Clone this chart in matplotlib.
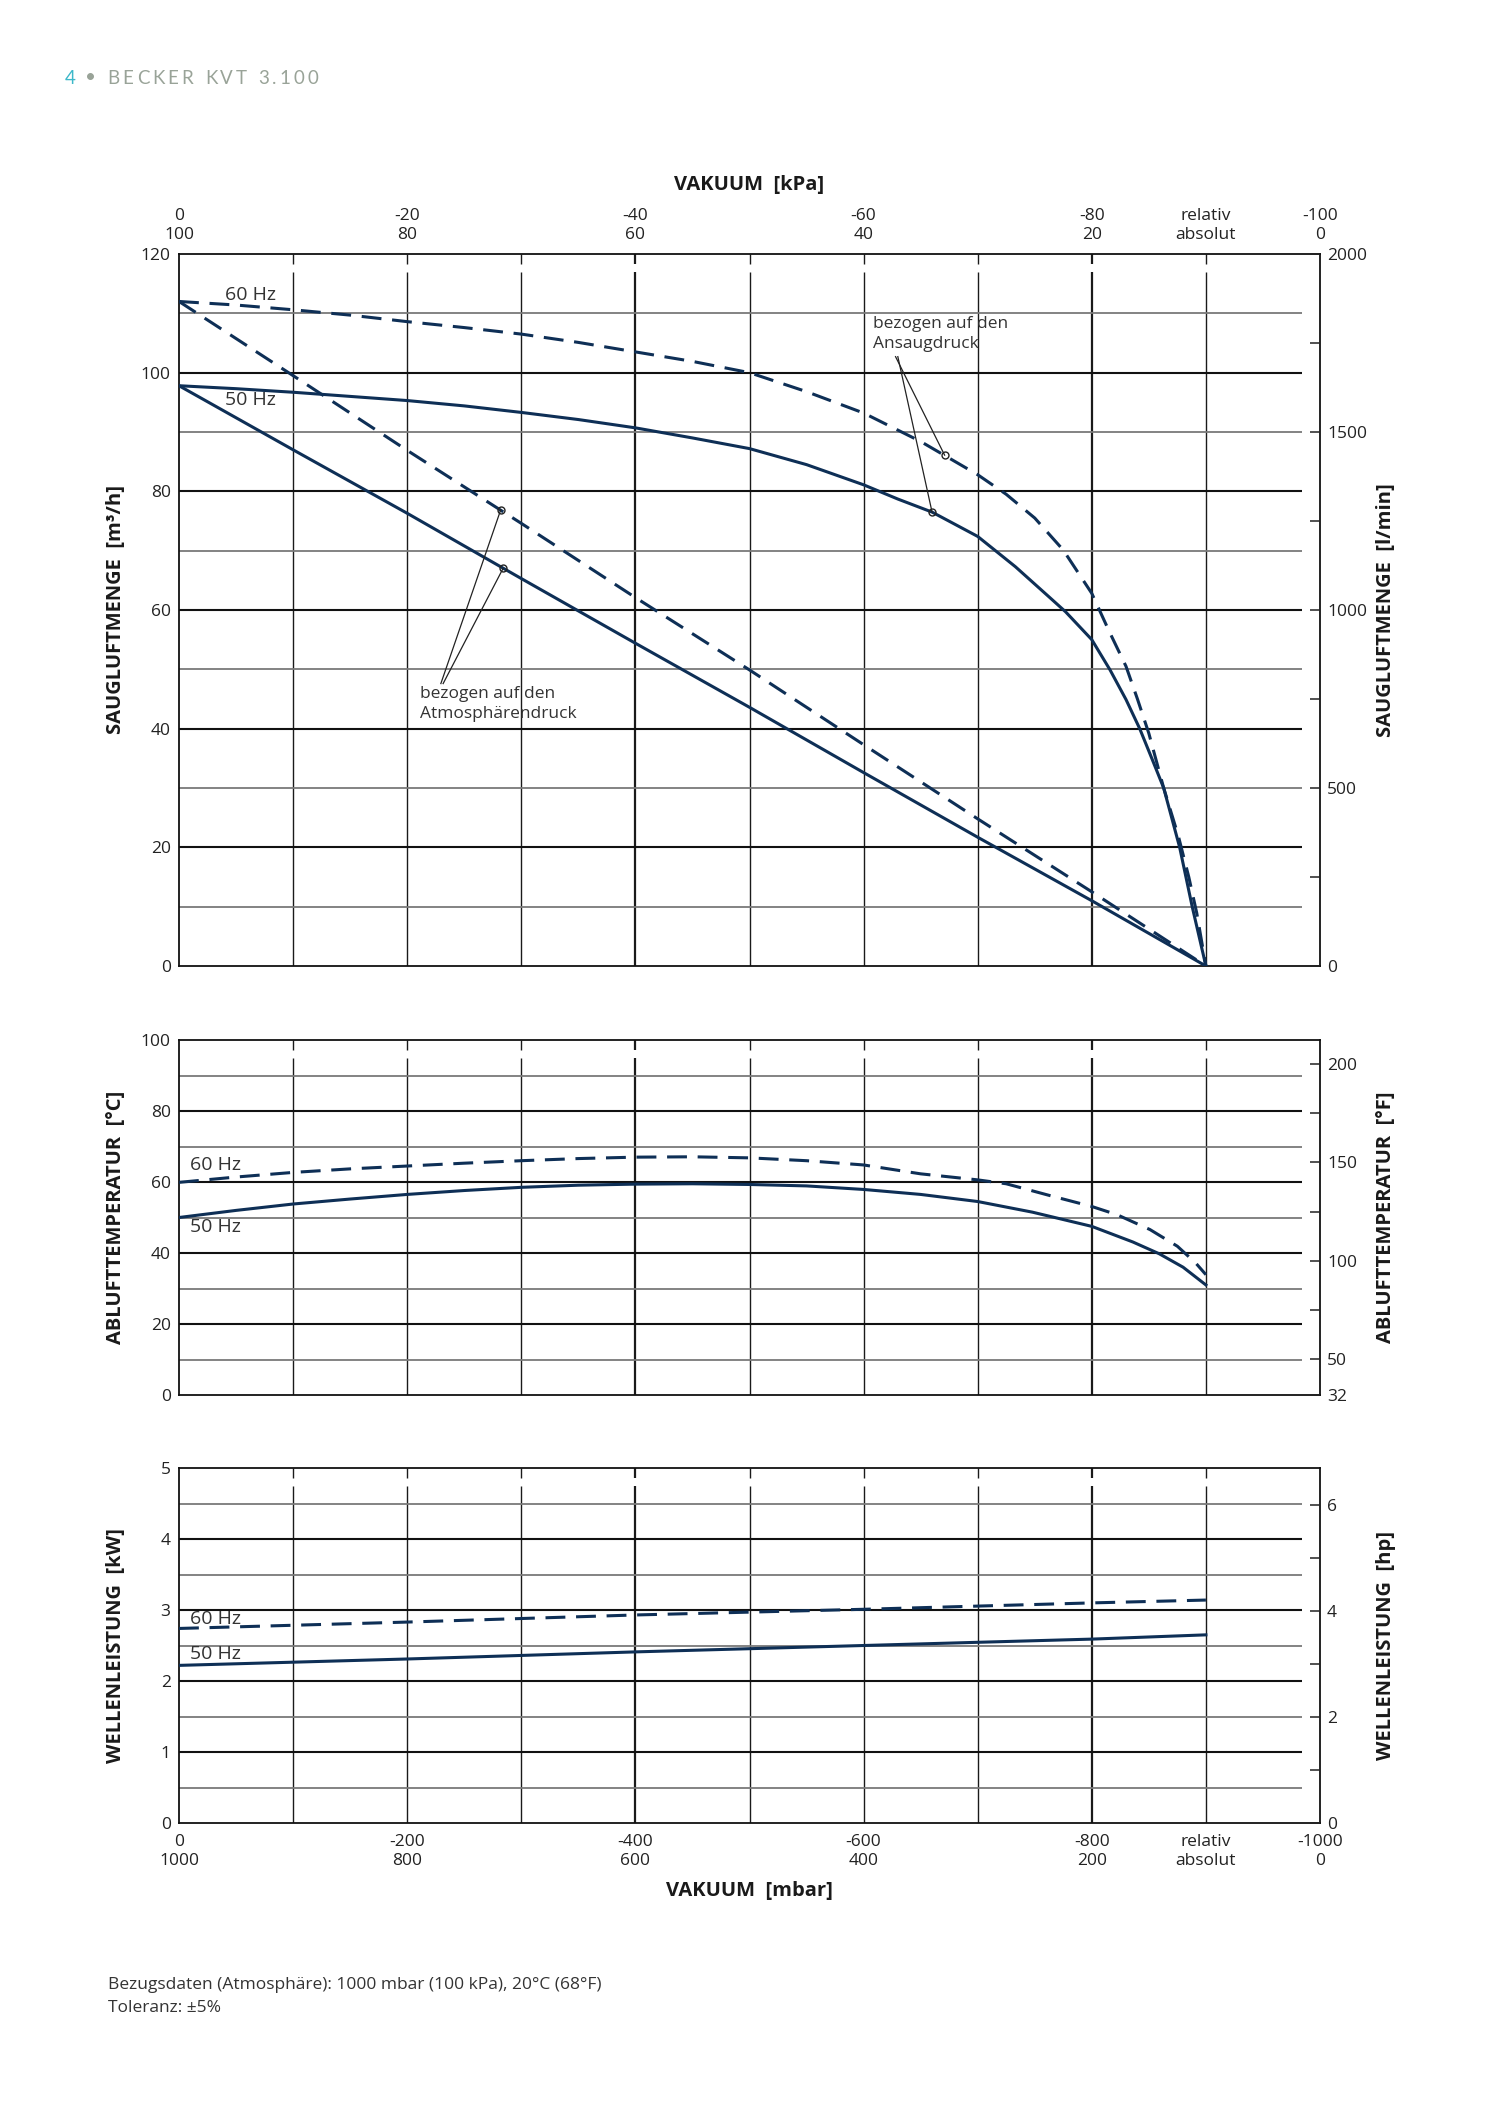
import numpy as np
import matplotlib.pyplot as plt

FIG_W, FIG_H, DPI = 1500, 2121, 100
NAVY = "#0e2f56"
DASH = (0, (6.5, 3.5))

# --- Saugluftmenge (m3/h), bezogen auf den Ansaugdruck ---
vac_ans60 = [0, 50, 100, 150, 200, 250, 300, 350, 400, 450, 500, 550, 600, 650, 700, 725, 750,
             775, 800, 815, 830, 840, 850, 863, 876, 885, 892, 900]
q_ans60 = [112.0, 111.4, 110.6, 109.7, 108.6, 107.6, 106.5, 105.1, 103.5, 101.9, 100.0, 96.8, 93.2,
           88.4, 82.8, 79.5, 75.5, 70.1, 62.8, 56.5, 50.5, 45.0, 39.2, 30.0, 21.8, 15.0, 8.9, 0.0]
vac_ans50 = [0, 50, 100, 150, 200, 250, 300, 350, 400, 450, 500, 550, 600, 630, 660, 700, 733,
             762, 777, 800, 816, 830, 842, 853, 863, 877, 888, 894, 900]
q_ans50 = [97.8, 97.3, 96.7, 96.0, 95.3, 94.4, 93.3, 92.1, 90.7, 89.0, 87.2, 84.5, 81.1, 78.7,
           76.5, 72.4, 67.3, 62.3, 59.7, 55.0, 49.9, 44.9, 40.0, 34.8, 30.0, 20.0, 10.0, 5.0, 0.0]

# --- Saugluftmenge (m3/h), bezogen auf den Atmosphaerendruck ---
vac_atm = [0, 100, 200, 300, 400, 500, 600, 700, 800, 900]
q_atm60 = [112.0, 99.5, 86.9, 74.6, 62.1, 49.9, 37.3, 24.8, 12.5, 0.0]
q_atm50 = [97.8, 87.0, 76.3, 65.3, 54.4, 43.6, 32.6, 21.7, 11.0, 0.0]

# --- Ablufttemperatur (degC) ---
vac_t60 = [0, 50, 100, 150, 200, 250, 300, 350, 400, 450, 500, 550, 600, 650, 700, 725, 763,
           800, 822, 851, 875, 891, 900]
t60 = [59.9, 61.4, 62.7, 63.7, 64.5, 65.3, 66.0, 66.6, 67.0, 67.1, 66.8, 66.0, 64.8, 62.3, 60.6,
       59.5, 56.2, 53.1, 50.8, 46.6, 41.9, 37.2, 33.9]
vac_t50 = [0, 50, 100, 150, 200, 250, 300, 350, 400, 450, 500, 550, 600, 650, 700, 748, 800,
           836, 859, 880, 900]
t50 = [50.0, 52.0, 53.8, 55.2, 56.5, 57.6, 58.5, 59.1, 59.4, 59.5, 59.3, 58.9, 57.9, 56.5, 54.5,
       51.5, 47.5, 43.1, 39.8, 36.0, 31.0]

# --- Wellenleistung (kW) ---
vac_pow = [0, 200, 400, 600, 800, 900]
p60 = [2.74, 2.83, 2.93, 3.01, 3.10, 3.14]
p50 = [2.22, 2.31, 2.41, 2.50, 2.59, 2.65]

# annotation points (mbar, m3/h)
atm_marks_x = [282, 284]
atm_marks_y = [76.9, 67.0]
atm_lead = [(229.5, 47.6), (231.5, 47.6)]
ans_marks_x = [671, 660]
ans_marks_y = [86.1, 76.5]
ans_lead = [(628, 102.7), (630, 102.7)]

top_pos = [0, 200, 400, 600, 800, 900, 1000]
top_labels = ["0\n100", "-20\n80", "-40\n60", "-60\n40", "-80\n20", "relativ\nabsolut", "-100\n0"]
bot_labels = ["0\n1000", "-200\n800", "-400\n600", "-600\n400", "-800\n200", "relativ\nabsolut", "-1000\n0"]

FONT = "Open Sans"
plt.rcParams["font.family"] = [FONT, "DejaVu Sans"]

fig = plt.figure(figsize=(FIG_W / DPI, FIG_H / DPI), dpi=DPI)


def px_axes(l, t, r, b):
    return fig.add_axes([l / FIG_W, 1 - b / FIG_H, (r - l) / FIG_W, (b - t) / FIG_H])


def setup(ax, ymax, major, minor, hpx):
    ax.set_xlim(0, 1000)
    ax.set_ylim(0, ymax)
    tr = ax.get_xaxis_transform()
    for x in range(100, 1000, 100):
        lw = 1.6 if x in (400, 800) else 1.0
        ax.vlines(x, 0, 1 - 18 / hpx, transform=tr, colors="#1a1a1a", lw=lw, zorder=1)
        ax.vlines(x, 1 - 10 / hpx, 1, transform=tr, colors="#1a1a1a", lw=lw, zorder=1)
    n = int(round(ymax / minor))
    for i in range(1, n):
        y = i * minor
        if abs(y / major - round(y / major)) < 1e-6:
            ax.hlines(y, 0, 984, colors="#111111", lw=1.5, zorder=1)
        else:
            ax.hlines(y, 0, 984, colors="#7a7a7a", lw=1.3, zorder=1)
    for s in ax.spines.values():
        s.set_linewidth(1.3)
        s.set_color("#111111")
    ax.set_yticks(np.arange(0, ymax + major / 2, major))
    ax.set_yticklabels([f"{v:g}" for v in np.arange(0, ymax + major / 2, major)])
    ax.tick_params(axis="y", length=0, labelsize=12.5, pad=6, colors="#222222")
    ax.tick_params(axis="x", length=0, labelsize=12.5, colors="#222222")
    ax.set_xticks([])


def twin(ax, lo, hi, major, minor):
    tw = ax.twinx()
    tw.set_ylim(lo, hi)
    tw.set_yticks(major)
    tw.set_yticklabels([f"{v:g}" for v in major])
    tw.set_yticks(minor, minor=True)
    tw.tick_params(which="both", direction="in", length=7, width=1.1, labelsize=12.5,
                   pad=5, colors="#222222")
    for s in tw.spines.values():
        s.set_visible(False)
    return tw


ax1 = px_axes(179, 254, 1320, 966)
ax2 = px_axes(179, 1040, 1320, 1395)
ax3 = px_axes(179, 1468, 1320, 1823)

setup(ax1, 120, 20, 10, 712)
setup(ax2, 100, 20, 10, 355)
setup(ax3, 5, 1, 0.5, 355)

twin(ax1, 0, 120 * 1000 / 60, [0, 500, 1000, 1500, 2000], [250, 750, 1250, 1750])
twin(ax2, 32, 212, [32, 50, 100, 150, 200], [75, 125, 175])
twin(ax3, 0, 5 * 1.341, [0, 2, 4, 6], [1, 3, 5])

# vacuum scales (top: kPa, bottom: mbar)
ax1.set_xticks(top_pos)
ax1.set_xticklabels(top_labels, linespacing=1.25)
ax1.tick_params(axis="x", top=True, labeltop=True, bottom=False, labelbottom=False, pad=8)
ax3.set_xticks(top_pos)
ax3.set_xticklabels(bot_labels, linespacing=1.25)
ax3.tick_params(axis="x", bottom=True, labelbottom=True, pad=8)

# curves
ax1.plot(vac_ans60, q_ans60, color=NAVY, lw=2.2, ls=DASH, zorder=3)
ax1.plot(vac_ans50, q_ans50, color=NAVY, lw=2.2, zorder=3)
ax1.plot(vac_atm, q_atm60, color=NAVY, lw=2.2, ls=DASH, zorder=3)
ax1.plot(vac_atm, q_atm50, color=NAVY, lw=2.2, zorder=3)
ax2.plot(vac_t60, t60, color=NAVY, lw=2.2, ls=DASH, zorder=3)
ax2.plot(vac_t50, t50, color=NAVY, lw=2.2, zorder=3)
ax3.plot(vac_pow, p60, color=NAVY, lw=2.2, ls=DASH, zorder=3)
ax3.plot(vac_pow, p50, color=NAVY, lw=2.2, zorder=3)

hz_kw = dict(fontsize=14, color="#333333", va="center", ha="left", zorder=4)
ax1.text(40, 113.1, "60 Hz", **hz_kw)
ax1.text(40, 95.4, "50 Hz", **hz_kw)
ax2.text(10, 64.8, "60 Hz", **hz_kw)
ax2.text(10, 47.4, "50 Hz", **hz_kw)
ax3.text(10, 2.87, "60 Hz", **hz_kw)
ax3.text(10, 2.38, "50 Hz", **hz_kw)

# annotations
for (lx, ly), mx, my in zip(atm_lead, atm_marks_x, atm_marks_y):
    ax1.plot([lx, mx], [ly, my], color="#222222", lw=0.9, zorder=4)
for (lx, ly), mx, my in zip(ans_lead, ans_marks_x, ans_marks_y):
    ax1.plot([lx, mx], [ly, my], color="#222222", lw=0.9, zorder=4)
ax1.plot(atm_marks_x + ans_marks_x, atm_marks_y + ans_marks_y, ls="none", marker="o", ms=5,
         mfc="none", mec="#222222", mew=1.0, zorder=5)
ax1.text(211, 44.2, "bezogen auf den\nAtmosphärendruck", fontsize=12.5, color="#333333",
         va="center", ha="left", linespacing=1.3, zorder=4)
ax1.text(608, 106.55, "bezogen auf den\nAnsaugdruck", fontsize=12.5, color="#333333",
         va="center", ha="left", linespacing=1.3, zorder=4)

# axis titles
bold = dict(fontsize=14.5, fontweight="bold", color="#1a1a1a", ha="center", va="center")
fig.text(749 / FIG_W, 1 - 185 / FIG_H, "VAKUUM  [kPa]", **bold)
fig.text(749 / FIG_W, 1 - 1891 / FIG_H, "VAKUUM  [mbar]", **bold)
for (t, b), left, right in [((254, 966), "SAUGLUFTMENGE  [m³/h]", "SAUGLUFTMENGE  [l/min]"),
                           ((1040, 1395), "ABLUFTTEMPERATUR  [°C]", "ABLUFTTEMPERATUR  [°F]"),
                           ((1468, 1823), "WELLENLEISTUNG  [kW]", "WELLENLEISTUNG  [hp]")]:
    yc = 1 - (t + b) / 2 / FIG_H
    fig.text(116 / FIG_W, yc, left, rotation=90, **bold)
    fig.text(1386 / FIG_W, yc, right, rotation=90, **bold)

# header with letter spacing
renderer = fig.canvas.get_renderer()


def tracked(x, y, s, color, size, track):
    for ch in s:
        if ch == " ":
            x += size * 0.3 * DPI / 72 + track
            continue
        t = fig.text(x / FIG_W, 1 - y / FIG_H, ch, fontsize=size, color=color,
                     family=["Lato", "DejaVu Sans"], va="center", ha="left")
        x += t.get_window_extent(renderer).width + track
    return x


x = tracked(65, 78, "4", "#3db8c9", 13.5, 3.0)
tracked(x + 6, 78, "• BECKER KVT 3.100", "#99a398", 13.5, 3.0)

# footer
foot = dict(fontsize=12.5, color="#333333", ha="left", va="center")
fig.text(108 / FIG_W, 1 - 1985 / FIG_H, "Bezugsdaten (Atmosphäre): 1000 mbar (100 kPa), 20°C (68°F)", **foot)
fig.text(108 / FIG_W, 1 - 2008 / FIG_H, "Toleranz: ±5%", **foot)

fig.savefig("out.png", dpi=DPI, facecolor="white")
